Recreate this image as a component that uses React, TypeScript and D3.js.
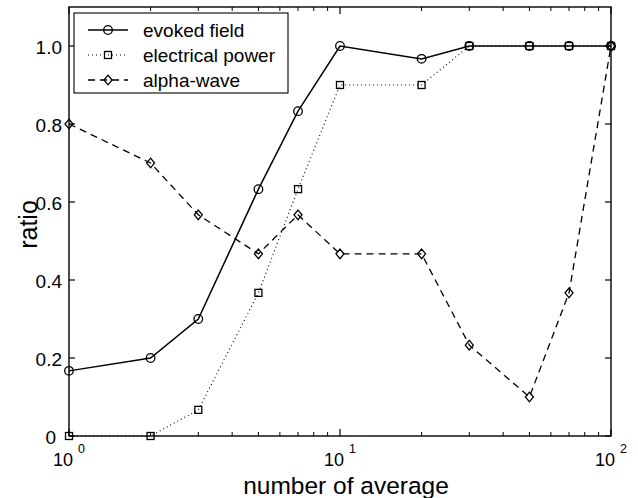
import React from "react";
import * as d3 from "d3";

const averages = [1, 2, 3, 5, 7, 10, 20, 30, 50, 70, 100];
const evokedField = [0.167, 0.2, 0.3, 0.633, 0.833, 1.0, 0.967, 1.0, 1.0, 1.0, 1.0];
const electricalPower = [0, 0, 0.067, 0.367, 0.633, 0.9, 0.9, 1.0, 1.0, 1.0, 1.0];
const alphaWave = [0.8, 0.7, 0.567, 0.467, 0.567, 0.467, 0.467, 0.233, 0.1, 0.367, 1.0];
const yTicks = [0, 0.2, 0.4, 0.6, 0.8, 1.0];
const yTickLabels = ["0", "0.2", "0.4", "0.6", "0.8", "1.0"];
const xMajorTicks = [1, 10, 100];
const xExponents = ["0", "1", "2"];
const seriesNames = ["evoked field", "electrical power", "alpha-wave"];

const W = 638;
const H = 498;
const L = 69, R = 611, T = 7, B = 436;
const FONT = "'Liberation Sans', Arial, Helvetica, sans-serif";

type MarkerKind = "circle" | "square" | "diamond";

function Marker({ kind, x, y }: { kind: MarkerKind; x: number; y: number }) {
  const common = { fill: "none", stroke: "#000", strokeWidth: 1.3 };
  if (kind === "circle") return <circle cx={x} cy={y} r={4.3} {...common} />;
  if (kind === "square") return <rect x={x - 3.5} y={y - 3.5} width={7} height={7} {...common} />;
  return <path d={`M${x},${y - 4.8}L${x + 4},${y}L${x},${y + 4.8}L${x - 4},${y}Z`} {...common} />;
}

export default function App() {
  const x = d3.scaleLog().domain([1, 100]).range([L, R]);
  const y = d3.scaleLinear().domain([0, 1.1]).range([B, T]);
  const line = d3
    .line<number>()
    .x((_, i) => x(averages[i]))
    .y((d) => y(d));

  const series: { name: string; values: number[]; dash: string; marker: MarkerKind; width: number }[] = [
    { name: seriesNames[0], values: evokedField, dash: "none", marker: "circle", width: 1.5 },
    { name: seriesNames[1], values: electricalPower, dash: "1,3", marker: "square", width: 1.1 },
    { name: seriesNames[2], values: alphaWave, dash: "7,5", marker: "diamond", width: 1.3 },
  ];

  const minorTicks: number[] = [];
  for (let dec = 1; dec <= 10; dec *= 10) {
    for (let k = 2; k <= 9; k++) minorTicks.push(dec * k);
  }

  return (
    <svg
      width={W}
      height={H}
      style={{ position: "absolute", left: 0, top: 0, background: "#fff" }}
      fontFamily={FONT}
    >
      <rect x={0} y={0} width={W} height={H} fill="#fff" />
      {series.map((s) => (
        <g key={s.name}>
          <path
            d={line(s.values) || ""}
            fill="none"
            stroke="#000"
            strokeWidth={s.width}
            strokeDasharray={s.dash}
          />
          {s.values.map((v, i) => (
            <Marker key={i} kind={s.marker} x={x(averages[i])} y={y(v)} />
          ))}
        </g>
      ))}
      <rect x={L} y={T} width={R - L} height={B - T} fill="none" stroke="#000" strokeWidth={1.4} />
      {yTicks.map((t, i) => (
        <g key={"y" + i}>
          <line x1={L} x2={L + 6} y1={y(t)} y2={y(t)} stroke="#000" strokeWidth={1.2} />
          <line x1={R} x2={R - 6} y1={y(t)} y2={y(t)} stroke="#000" strokeWidth={1.2} />
          <text
            x={t === 0 ? L - 13 : L - 7}
            y={y(t) + 8}
            textAnchor="end"
            fontSize={19}
            fill="#000"
          >
            {yTickLabels[i]}
          </text>
        </g>
      ))}
      {minorTicks.map((t) => (
        <g key={"m" + t}>
          <line x1={x(t)} x2={x(t)} y1={B} y2={B - 4} stroke="#000" strokeWidth={1} />
          <line x1={x(t)} x2={x(t)} y1={T} y2={T + 4} stroke="#000" strokeWidth={1} />
        </g>
      ))}
      {xMajorTicks.map((t, i) => (
        <g key={"M" + t}>
          <line x1={x(t)} x2={x(t)} y1={B} y2={B - 7} stroke="#000" strokeWidth={1.2} />
          <line x1={x(t)} x2={x(t)} y1={T} y2={T + 7} stroke="#000" strokeWidth={1.2} />
          <text x={x(t) - 16} y={466} fontSize={18} fill="#000">
            10
          </text>
          <text x={x(t) + 9} y={453} fontSize={12.5} fill="#000">
            {xExponents[i]}
          </text>
        </g>
      ))}
      <text x={(L + R) / 2 + 6} y={494} textAnchor="middle" fontSize={24.5} fill="#000">
        number of average
      </text>
      <text
        transform={`translate(37, ${(T + B) / 2 + 3}) rotate(-90)`}
        textAnchor="middle"
        fontSize={25}
        fill="#000"
      >
        ratio
      </text>
      <rect x={74} y={13} width={214} height={80} fill="#fff" stroke="#000" strokeWidth={1.1} />
      {series.map((s, i) => {
        const ly = 30 + i * 25;
        return (
          <g key={"lg" + i}>
            <line
              x1={88}
              x2={128}
              y1={ly}
              y2={ly}
              stroke="#000"
              strokeWidth={s.width}
              strokeDasharray={s.dash}
            />
            <Marker kind={s.marker} x={108} y={ly} />
            <text x={143} y={ly + 7} fontSize={19} fill="#000">
              {s.name}
            </text>
          </g>
        );
      })}
    </svg>
  );
}
